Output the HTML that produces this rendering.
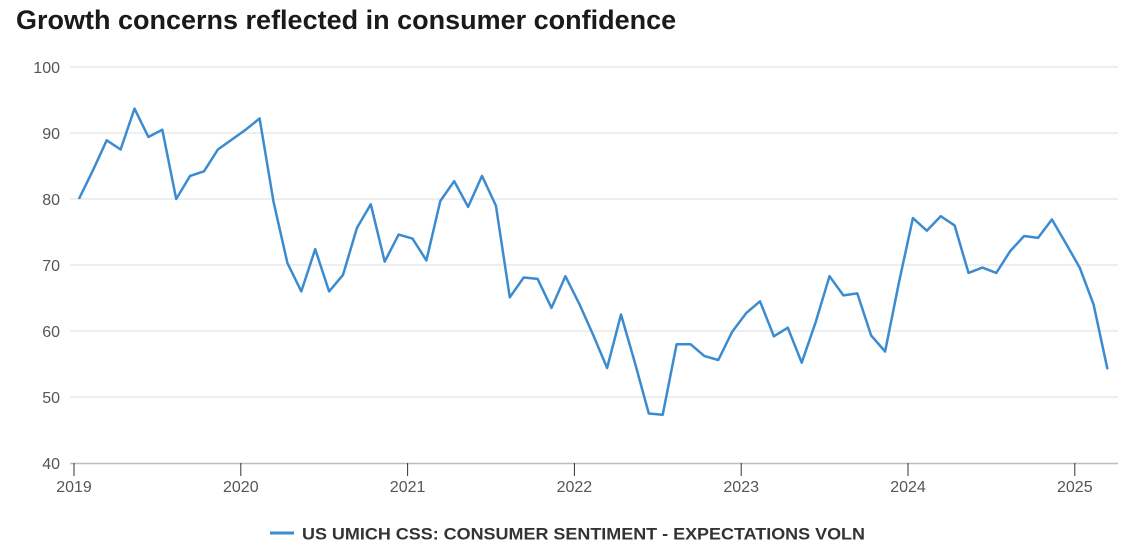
<!DOCTYPE html>
<html><head><meta charset="utf-8"><style>
body{margin:0;background:#fff;font-family:"Liberation Sans",sans-serif}
#title{position:absolute;left:16px;top:5px;font-size:27px;font-weight:bold;color:#1a1a1a;margin:0}
</style></head><body>
<h1 id="title">Growth concerns reflected in consumer confidence</h1>
<svg id="chart" width="1148" height="559" style="position:absolute;left:0;top:0"></svg>
<script>
const values=[80.0,84.3,88.9,87.5,93.7,89.4,90.5,80.0,83.5,84.2,87.5,89.0,
90.5,92.2,79.6,70.3,66.0,72.4,66.0,68.5,75.6,79.2,70.5,74.6,
74.0,70.7,79.7,82.7,78.8,83.5,79.0,65.1,68.1,67.9,63.5,68.3,
64.1,59.4,54.4,62.5,55.2,47.5,47.3,58.0,58.0,56.2,55.6,59.9,
62.7,64.5,59.2,60.5,55.2,61.3,68.3,65.4,65.7,59.3,56.9,67.4,
77.1,75.2,77.4,76.0,68.8,69.6,68.8,72.1,74.4,74.1,76.9,73.3,
69.6,64.0,54.2];
const yTicks=[40,50,60,70,80,90,100];
const xTicks=[2019,2020,2021,2022,2023,2024,2025];
const seriesName="US UMICH CSS: CONSUMER SENTIMENT - EXPECTATIONS VOLN";
const NS="http://www.w3.org/2000/svg";
const svg=document.getElementById('chart');
const yS=v=>463-(v-40)*6.6;
const yearX=y=>74+(y-2019)*166.8;
const mX=i=>yearX(2019+(i+0.35)/12);
function mk(t,a,p){const e=document.createElementNS(NS,t);for(const k in a)e.setAttribute(k,a[k]);(p||svg).appendChild(e);return e;}
yTicks.forEach(v=>{
 if(v>40){const g=mk('line',{x1:70,x2:1118,y1:yS(v),y2:yS(v),stroke:'#dcdcdc','stroke-width':1});
 
 }
 const t=mk('text',{x:60,y:yS(v)+6,'text-anchor':'end','font-size':16,fill:'#555','font-family':'Liberation Sans'});
 t.textContent=v;
 
 
});
const ax=mk('line',{x1:70,x2:1118,y1:463.5,y2:463.5,stroke:'#b8bec6','stroke-width':1.5});


xTicks.forEach(y=>{
 const x=yearX(y);
 const tk=mk('line',{x1:x,x2:x,y1:463,y2:476,stroke:'#333','stroke-width':1});
 
 
 const t=mk('text',{x:x,y:492,'text-anchor':'middle','font-size':16,fill:'#555','font-family':'Liberation Sans'});
 t.textContent=y;
 
 
});
const pts=values.map((v,i)=>mX(i).toFixed(1)+','+yS(v).toFixed(1)).join(' ');
const line=mk('polyline',{points:pts,fill:'none',stroke:'#3b8bd0','stroke-width':2.5,'stroke-linejoin':'round'});


const lg=mk('g',{});


mk('line',{x1:270,x2:294,y1:533,y2:533,stroke:'#3b8bd0','stroke-width':3},lg);
const lt=mk('text',{x:302,y:539.5,'font-size':17,'font-weight':'bold',fill:'#333','font-family':'Liberation Sans',textLength:563,lengthAdjust:'spacingAndGlyphs'},lg);
lt.textContent=seriesName;
</script>
</body></html>
